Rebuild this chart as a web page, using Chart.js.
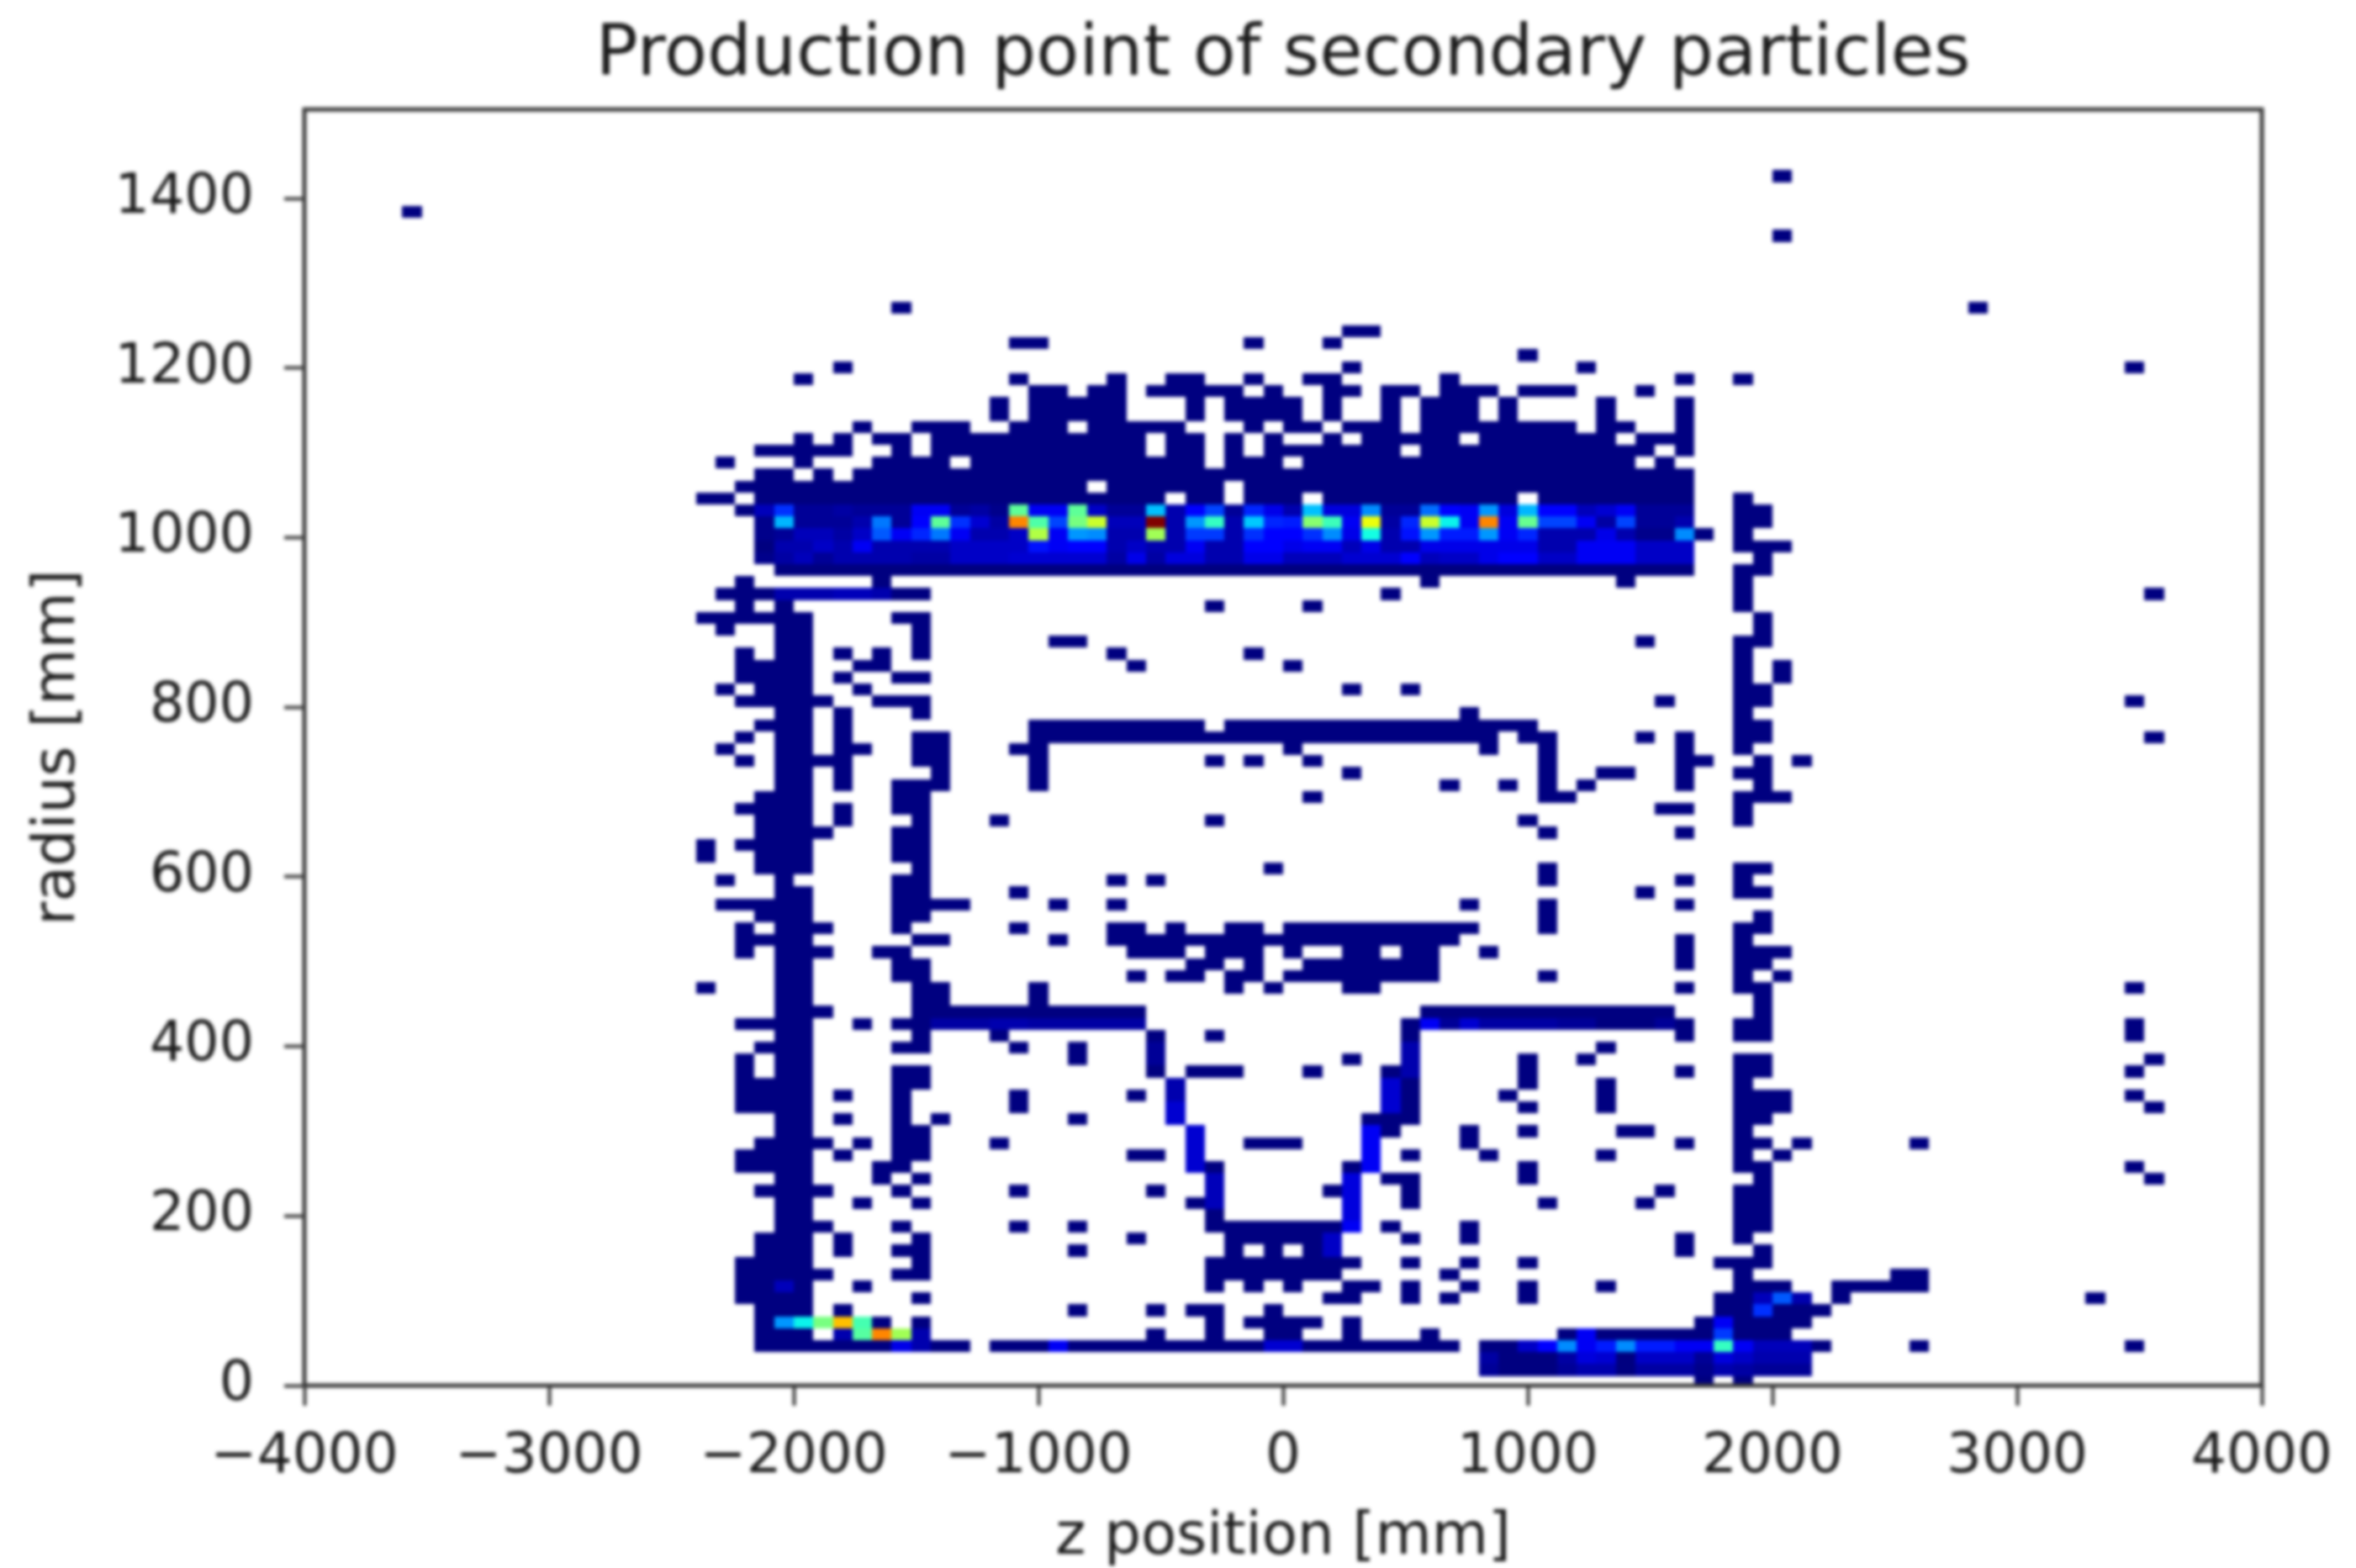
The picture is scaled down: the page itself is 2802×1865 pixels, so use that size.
<!DOCTYPE html>
<html>
<head>
<meta charset="utf-8">
<title>Production point of secondary particles</title>
<script src="https://cdn.jsdelivr.net/npm/chart.js@4"></script>
<style>
  html, body { margin: 0; padding: 0; background: #fff; }
  canvas { display: block; filter: blur(2px); }
</style>
</head>
<body>
<canvas id="chart" width="2802" height="1865"></canvas>
<script>
/* axis ticks */
const zTicks = [-4000, -3000, -2000, -1000, 0, 1000, 2000, 3000, 4000];
const rTicks = [0, 200, 400, 600, 800, 1000, 1200, 1400];

/* filled bins: [radius row, z columns]. Count 1 unless listed below */
const rowSpans = [
  [98, '54'], [95, '-16'], [93, '54'], [87, '9 64'], [85, '32-33'],
  [84, '15-16 27 31'], [83, '41'], [82, '6 32 44 72'],
  [81, '4 15 20 23-24 27 30-31 37 49 52'],
  [80, '16-17 19-20 22-26 28 31-32 34-35 37-39 41-43 47'],
  [79, '14 16-20 24 26-29 31 34 36-38 40 45 49'],
  [78, '14 16-20 24 26-29 31 34 36-38 40 45 49'],
  [77, '7 10-12 15-17 19-23 27 29-30 32-34 36-43 45-46 49'],
  [76, '4 6 8-9 11-21 23-24 26 28 31 33-37 39-45 47-49'],
  [75, '2-6 9 11-21 23-24 26 28-34 36-47 49'],
  [74, '0 4 8-11 13-24 26-28 30-46 48'],
  [73, '2-3 5 7-49'],
  [72, '1-18 20-25 27-49'],
  [71, '-1-0 2-22 24-25 27-29 31-40 42-49 52'],
  [70, '1 52-53'], [69, '52-53'], [68, '50 52'], [67, '52-54'], [66, '53'],
  [65, '3-49 52-53'],
  [64, '1 8 36 46 52'],
  [63, '0-10 34 52 73'],
  [62, '1 3 25 30 52'],
  [61, '-1-4 9-10 53'],
  [60, '0 3-4 10 53'],
  [59, '3-4 10 17-18 47 52-53'],
  [58, '1 3-4 6 8 10 20 27 52'],
  [57, '1-4 7-8 21 29 52 54'],
  [56, '1-4 6 9-10 52 54'],
  [55, '0 2-4 7 32 35 52-53'],
  [54, '1-5 8-10 48 52-53 72'],
  [53, '3-4 6 10 38 52'],
  [52, '2-4 6 16-24 26-41 52-53'],
  [51, '1 3-4 6 10-11 16-39 41-42 47 49 52-53 73'],
  [50, '0 3-4 6-7 10-11 15-16 29 39 42 49 52'],
  [49, '1 3-6 10-11 16 25 27 30 42 49-50 53 55'],
  [48, '3-4 6 11 16 32 42 45-46 49 52-53'],
  [47, '3-4 6 9-11 16 37 40 42 44 49 53'],
  [46, '2-4 9-10 30 42-43 52-54'],
  [45, '1-4 6 9-10 48-49 52'],
  [44, '2-4 6 10 14 25 41 52'],
  [43, '2-5 9-10 42 49'],
  [42, '-1 1-4 9-10'],
  [41, '-1 2-4 9-10'],
  [40, '2-4 10 28 42 52-53'],
  [39, '0 3 9-10 20 22 42 49 52'],
  [38, '3-4 9-10 15 47 52-53'],
  [37, '0-4 9-12 17 20 38 42 49'],
  [36, '2-4 9-10 42 53'],
  [35, '1 3-5 9 15 20-21 23 26-27 29-38 42 52-53'],
  [34, '1-4 10-11 17 20-37 49 52'],
  [33, '1 3-5 8-9 21-23 25-27 29 32-33 35-36 39 49 52-54'],
  [32, '3-4 9-10 24-25 27 30-36 49 52-53'],
  [31, '3-4 9-10 21 23-24 26-27 29-36 42 52 54'],
  [30, '-1 3-4 10-11 16 26 28 32-33 49 52-53 72'],
  [29, '3-4 10-11 16 53'],
  [28, '3-5 10-21 36-48 53'],
  [27, '1-4 7 9-21 35-49 52-53 72'],
  [26, '3-4 10 14 22 25 35 49 52-53 72'],
  [25, '2-4 9-10 15 18 22 35 45'],
  [24, '1 3-4 18 22 32 35 41 44 52-53 73'],
  [23, '1 3-4 9-10 22 24-26 30 34-35 41 49 52-53 72'],
  [22, '1-4 9-10 23 34-35 41 45 52'],
  [21, '1-4 6 9 15 21 23 34-35 40 45 52-54 72'],
  [20, '1-4 9 15 23 34-35 41 45 52-54 73'],
  [19, '3-4 6 9 11 18 23 33-35 52-53'],
  [18, '3-4 9-10 24 33-34 38 41 46-47 52'],
  [17, '2-5 7 9-10 14 24 27-29 33 38 49 52-53 55 61'],
  [16, '1-4 6 9-10 21-22 24 33 35 39 45 52 54'],
  [15, '1-4 8-9 24-25 32-33 41 52-53 72'],
  [14, '3-4 8 10 25 32 34-35 41 53 73'],
  [13, '2-5 9 15 22 25 31-32 35 48 52-53'],
  [12, '3-4 7 10 24-25 32 35 42 47 52-53'],
  [11, '3-4 25 32 52-53'],
  [10, '3-5 9 15 18 25-32 34 38 52-53'],
  [9, '2-4 6 10 21 26-31 35 38 49 52'],
  [8, '2-4 6 9-10 18 26 28 30-31 49 53'],
  [7, '1-4 10 25-32 35 38 41 51-53'],
  [6, '1-5 9-10 25-31 37 52 60-61'],
  [5, '1-4 7 25 27 29 32-33 35 38 41 45 52-54 57-61'],
  [4, '1-4 10 31-32 35 37 41 51-55 57 70'],
  [3, '2-4 6 18 22 24-25 28 51-56'],
  [2, '2-8 10 25 27-30 32 50-55'],
  [1, '2-4 6-10 22 25 28-29 32 36 43-54'],
  [0, '2-12 14-37 39-56 61 72'],
  [-1, '39-55'], [-2, '39-55'], [-3, '50 52']
];

/* counts in the dense band at r = 950..1050, columns 2..49, peak scaled to 100 */
const bandFirstCol = 2;
const bandRow70 = [6,18,3,3,4,3,3,3,11,11,3,4,2,47,11,11,47,7,3,3,32,5,12,20,3,17,10,5,32,9,9,27,3,3,24,13,11,28,9,31,12,12,6,8,11,3,3,3];
const bandRow69 = [2,31,3,3,3,5,25,3,12,47,18,8,4,77,45,20,50,60,6,6,100,5,28,42,5,33,17,16,52,43,11,64,4,17,60,37,11,77,11,48,20,20,11,4,20,3,3,5];
const bandRow68 = [2,3,6,6,4,7,22,11,17,25,11,5,5,7,57,11,28,27,5,5,55,5,19,19,5,18,12,12,18,27,10,38,5,15,28,16,16,28,11,17,5,5,5,10,5,2,2,27];
const bandRow67 = [1,5,5,7,5,11,5,5,5,5,7,7,7,7,15,11,13,13,5,7,5,5,11,5,5,12,12,10,11,11,6,10,5,5,10,10,10,10,10,10,5,5,11,11,11,7,7,7];
const bandRow66 = [2,4,6,3,5,5,5,5,4,4,7,7,7,8,8,8,8,8,4,10,4,9,9,5,5,10,10,6,6,6,8,8,8,13,6,7,7,10,13,13,7,7,11,11,11,7,7,7];

/* other bins above count 1: [row, column, count] */
const brightCells = [
  [63,3,5],[63,4,5],[63,5,5],[63,6,6],[63,7,6],[63,8,5],
  [2,3,28],[2,4,37],[2,5,50],[2,6,71],[2,7,44],
  [1,6,5],[1,7,46],[1,8,77],[1,9,55],[1,10,5],
  [0,9,10],[0,10,5],[0,17,11],[0,28,8],[0,29,8],[0,41,7],[0,42,13],[0,43,27],[0,44,11],[0,45,16],
  [0,46,27],[0,47,16],[0,48,16],[0,49,11],[0,50,11],[0,51,42],[0,52,11],[0,53,6],[0,54,6],[0,55,6],
  [-1,39,4],[-1,43,4],[-1,44,9],[-1,45,8],[-1,47,7],[-1,48,7],[-1,49,7],[-1,50,3],[-1,51,9],[-1,52,7],[-1,53,5],[-1,54,5],[-1,55,5],
  [-2,39,3],[-2,43,3],[-2,44,5],[-2,45,5],[-2,47,4],[-2,48,4],[-2,49,4],[-2,50,2],[-2,51,5],[-2,52,4],[-2,53,3],[-2,54,3],[-2,55,3],
  [1,44,11],[1,51,19],[2,51,11],[3,53,18],[4,53,6],[4,54,22],[4,55,5],
  [18,24,8],[17,24,8],[16,24,8],[15,24,8],[14,25,6],[13,25,6],[12,25,6],
  [22,23,5],[21,23,5],[20,23,8],[19,23,8],[25,22,3],[24,22,3],
  [18,33,11],[17,33,11],[16,33,11],[15,33,11],[14,32,9],[13,32,9],[12,32,9],[11,32,9],[10,32,11],
  [22,34,8],[21,34,8],[20,34,8],[25,35,5],[24,35,5],[23,35,5],[9,31,7],[8,31,7],
  [27,11,4],[27,12,4],[27,13,4],[27,14,5],[27,15,5],[27,16,4],[27,17,4],[27,18,4],[27,19,4],[27,20,4],[27,21,4],
  [27,36,11],[27,37,3],[27,38,8],[27,39,4],[27,40,4],[27,41,4],[27,42,4],[27,43,3],[27,44,3],[27,48,3],
  [5,3,6]
];

/* bin geometry of the histogram */
const zBinStart = -2320, zBinWidth = 80;
const rBinStart = 39.4, rBinHeight = 14.08;
const countPeak = 100;

function parseSpan(text) {
  return text.split(' ').map(s => {
    const m = s.match(/^(-?\d+)(?:-(-?\d+))?$/);
    return [Number(m[1]), Number(m[2] === undefined ? m[1] : m[2])];
  });
}

/* row/col -> count table */
const counts = new Map();
rowSpans.forEach(([row, text]) => {
  parseSpan(text).forEach(([a, b]) => {
    for (let c = a; c <= b; c++) counts.set(row + ':' + c, 1);
  });
});
[[70, bandRow70], [69, bandRow69], [68, bandRow68], [67, bandRow67], [66, bandRow66]].forEach(([row, vals]) => {
  vals.forEach((v, i) => counts.set(row + ':' + (bandFirstCol + i), v));
});
brightCells.forEach(([row, col, v]) => counts.set(row + ':' + col, v));

const cells = [];
counts.forEach((v, key) => {
  const [row, col] = key.split(':').map(Number);
  cells.push({ x: zBinStart + col * zBinWidth, y: rBinStart + row * rBinHeight, v });
});

/* matplotlib jet */
function jet(t) {
  const ramp = (x, pts) => {
    for (let i = 1; i < pts.length; i++) {
      if (x <= pts[i][0]) {
        const [x0, y0] = pts[i - 1], [x1, y1] = pts[i];
        return y0 + (y1 - y0) * (x - x0) / (x1 - x0);
      }
    }
    return pts[pts.length - 1][1];
  };
  const r = ramp(t, [[0, 0], [0.35, 0], [0.66, 1], [0.89, 1], [1, 0.5]]);
  const g = ramp(t, [[0, 0], [0.125, 0], [0.375, 1], [0.64, 1], [0.91, 0], [1, 0]]);
  const b = ramp(t, [[0, 0.5], [0.11, 1], [0.34, 1], [0.65, 0], [1, 0]]);
  return `rgb(${Math.round(r * 255)},${Math.round(g * 255)},${Math.round(b * 255)})`;
}

/* Draws the 2D histogram bins through the chart scales */
const binPlugin = {
  id: 'histBins',
  beforeDatasetsDraw(chart) {
    const { ctx, chartArea, scales } = chart;
    ctx.save();
    ctx.beginPath();
    ctx.rect(chartArea.left, chartArea.top, chartArea.right - chartArea.left, chartArea.bottom - chartArea.top);
    ctx.clip();
    chart.data.datasets[0].data.forEach(p => {
      const x0 = Math.round(scales.x.getPixelForValue(p.x));
      const x1 = Math.round(scales.x.getPixelForValue(p.x + zBinWidth));
      const y0 = Math.round(scales.y.getPixelForValue(p.y + rBinHeight));
      const y1 = Math.round(scales.y.getPixelForValue(p.y));
      ctx.fillStyle = jet((p.v - 1) / (countPeak - 1));
      ctx.fillRect(x0, y0, x1 - x0, y1 - y0);
    });
    ctx.restore();
  },
  afterDraw(chart) {
    const { ctx, chartArea } = chart;
    ctx.save();
    ctx.strokeStyle = '#3a3a3a';
    ctx.lineWidth = 5;
    ctx.strokeRect(chartArea.left, chartArea.top, chartArea.right - chartArea.left, chartArea.bottom - chartArea.top);
    ctx.restore();
  },
};

const textColor = '#1c1c1c';
const family = '"DejaVu Sans"';

new Chart(document.getElementById('chart'), {
  type: 'scatter',
  data: { datasets: [{ label: 'secondaries', data: cells, pointRadius: 0, pointHoverRadius: 0 }] },
  options: {
    responsive: false,
    animation: false,
    events: [],
    layout: { padding: { right: 112, top: 0, bottom: 0, left: 0 } },
    plugins: {
      legend: { display: false },
      tooltip: { enabled: false },
      title: {
        display: true,
        fullSize: false,
        text: 'Production point of secondary particles',
        color: textColor,
        font: { family, size: 83.5, weight: 'normal', lineHeight: 1.2 },
        padding: { top: 17, bottom: 13 },
      },
    },
    scales: {
      x: {
        type: 'linear',
        min: -4000,
        max: 4000,
        afterBuildTicks: axis => { axis.ticks = zTicks.map(value => ({ value })); },
        afterFit: axis => { axis.height = 217; },
        ticks: {
          color: textColor,
          font: { family, size: 66 },
          padding: 22,
          maxRotation: 0,
          autoSkip: false,
          callback: v => String(v).replace('-', '\u2212'),
        },
        grid: { drawOnChartArea: false, tickLength: 24, tickWidth: 4, tickColor: '#3a3a3a' },
        border: { display: false },
        title: {
          display: true,
          text: 'z position [mm]',
          color: textColor,
          font: { family, size: 69, weight: 'normal', lineHeight: 1 },
          padding: { top: 0, bottom: 0 },
        },
      },
      y: {
        type: 'linear',
        min: 0,
        max: 1505,
        afterBuildTicks: axis => { axis.ticks = rTicks.map(value => ({ value })); },
        afterFit: axis => { axis.width = 362; },
        ticks: {
          color: textColor,
          font: { family, size: 65 },
          padding: 36,
          autoSkip: false,
          callback: v => String(v),
        },
        grid: { drawOnChartArea: false, tickLength: 24, tickWidth: 4, tickColor: '#3a3a3a' },
        border: { display: false },
        title: {
          display: true,
          text: 'radius [mm]',
          color: textColor,
          font: { family, size: 69, weight: 'normal', lineHeight: 1 },
          padding: { top: 36, bottom: 0 },
        },
      },
    },
  },
  plugins: [binPlugin],
});
</script>
</body>
</html>
